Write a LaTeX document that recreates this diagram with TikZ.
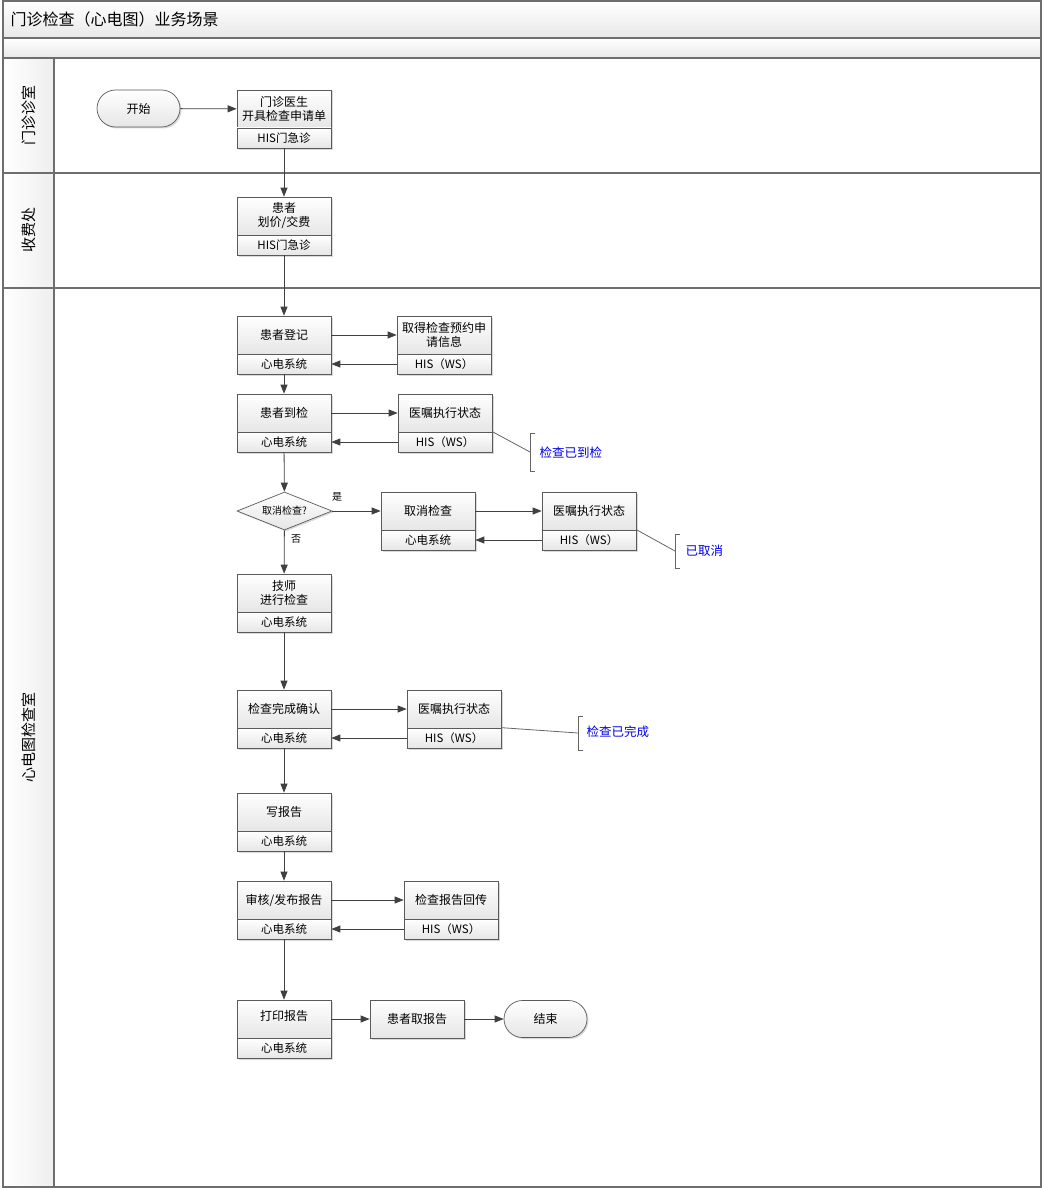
\documentclass[tikz,border=0pt]{standalone}
\usepackage{fontspec}
\setmainfont{Noto Sans CJK SC}
\usetikzlibrary{arrows.meta,shapes.geometric,shapes.misc,shadows}

\definecolor{edgecol}{HTML}{404040}
\definecolor{boxline}{HTML}{5A5A5A}
\definecolor{boxbot}{HTML}{E6E6E6}
\definecolor{lanecol}{HTML}{6E6E6E}
\definecolor{bandbot}{HTML}{E8E8E8}
\definecolor{colbot}{HTML}{EEEEEE}
\definecolor{notecol}{HTML}{0000E6}
\definecolor{notegray}{HTML}{666666}

\tikzset{
  shade box/.style={draw=boxline, line width=0.7pt, top color=white, bottom color=boxbot,
    drop shadow={shadow xshift=1.5pt, shadow yshift=-1.5pt, opacity=0.3}},
  taskbox/.style={shade box, align=center, inner sep=1pt, minimum width=94pt,
    font=\fontsize{12}{14}\selectfont},
  upper/.style={taskbox, minimum height=38pt},
  lower/.style={taskbox, minimum height=20pt, font=\fontsize{11.5}{13}\selectfont},
  terminal/.style={shade box, rounded rectangle, minimum width=85pt, minimum height=37pt,
    inner sep=1pt, font=\fontsize{12}{14}\selectfont},
  decision/.style={shade box, diamond, aspect=2.5, minimum width=95pt, minimum height=38pt,
    inner sep=0pt, font=\fontsize{10}{12}\selectfont},
  flowarr/.style={draw=edgecol, line width=0.8pt, -{Triangle[length=9pt,width=7pt]}},
  noteline/.style={draw=notegray, line width=0.8pt},
  notetext/.style={anchor=west, text=notecol, font=\fontsize{12.5}{14}\selectfont},
  smalllabel/.style={font=\fontsize{10}{12}\selectfont},
  lanelabel/.style={rotate=90, font=\fontsize{15}{17}\selectfont},
  laneframe/.style={draw=lanecol, line width=1.2pt}
}

\begin{document}
\begin{tikzpicture}[x=1pt,y=-1pt]
\useasboundingbox (0,0) rectangle (1042,1188);

% ---------- pool frame, title bands and lanes ----------
\shade[top color=white, bottom color=bandbot] (3,1) rectangle (1041,38);
\shade[top color=white, bottom color=bandbot] (3,38) rectangle (1041,58);
\shade[left color=white, right color=colbot] (3,58) rectangle (54,1187);
\draw[laneframe] (3,1) rectangle (1041,1187);
\draw[laneframe] (3,38) -- (1041,38);
\draw[laneframe] (3,58) -- (1041,58);
\draw[laneframe] (3,173) -- (1041,173);
\draw[laneframe] (3,288) -- (1041,288);
\draw[laneframe] (54,58) -- (54,1187);

\node[anchor=west, font=\fontsize{16}{18}\selectfont] (title) at (7,19) {门诊检查（心电图）业务场景};
\node[lanelabel] (lane1) at (29,116) {门诊诊室};
\node[lanelabel] (lane2) at (29,230) {收费处};
\node[lanelabel] (lane3) at (29,737) {心电图检查室};

% ---------- lane 1 ----------
\node[terminal] (start) at (138.5,108.5) {开始};
\node[upper] (doc) at (284,109) {门诊医生\\开具检查申请单};
\node[lower] (doc-s) at (284,138) {HIS门急诊};

% ---------- lane 2 ----------
\node[upper] (pay) at (284,216) {患者\\划价/交费};
\node[lower] (pay-s) at (284,245) {HIS门急诊};

% ---------- lane 3 ----------
\node[upper] (reg) at (284,335) {患者登记};
\node[lower] (reg-s) at (284,364) {心电系统};
\node[upper] (appt) at (444,335) {取得检查预约申\\请信息};
\node[lower] (appt-s) at (444,364) {HIS（WS）};

\node[upper] (arrive) at (284,413) {患者到检};
\node[lower] (arrive-s) at (284,442) {心电系统};
\node[upper] (st1) at (445,413) {医嘱执行状态};
\node[lower] (st1-s) at (445,442) {HIS（WS）};

\node[decision] (cancelq) at (284.5,511) {取消检查?};
\node[upper] (cancel) at (428,511) {取消检查};
\node[lower] (cancel-s) at (428,540) {心电系统};
\node[upper] (st2) at (589,511) {医嘱执行状态};
\node[lower] (st2-s) at (589,540) {HIS（WS）};
\node[smalllabel] (yes) at (337,497) {是};
\node[smalllabel] (no) at (296,539) {否};

\node[upper] (exam) at (284,593) {技师\\进行检查};
\node[lower] (exam-s) at (284,622) {心电系统};

\node[upper] (done) at (284,709) {检查完成确认};
\node[lower] (done-s) at (284,738) {心电系统};
\node[upper] (st3) at (454,709) {医嘱执行状态};
\node[lower] (st3-s) at (454,738) {HIS（WS）};

\node[upper] (write) at (284,812) {写报告};
\node[lower] (write-s) at (284,841) {心电系统};

\node[upper] (audit) at (284,900) {审核/发布报告};
\node[lower] (audit-s) at (284,929) {心电系统};
\node[upper] (back) at (451,900) {检查报告回传};
\node[lower] (back-s) at (451,929) {HIS（WS）};

\node[upper] (print) at (284,1019) {\raisebox{7pt}{打印报告}};
\node[lower] (print-s) at (284,1048) {心电系统};
\node[upper] (take) at (417,1019) {患者取报告};
\node[terminal] (end) at (545.5,1019) {结束};

% ---------- flow ----------
\draw[flowarr] (start) -- (doc);
\draw[flowarr] (doc-s) -- (pay);
\draw[flowarr] (pay-s) -- (reg);
\draw[flowarr] (reg) -- (appt);
\draw[flowarr] (appt-s) -- (reg-s);
\draw[flowarr] (reg-s) -- (arrive);
\draw[flowarr] (arrive) -- (st1);
\draw[flowarr] (st1-s) -- (arrive-s);
\draw[flowarr] (arrive-s) -- (cancelq);
\draw[flowarr] (cancelq) -- (cancel);
\draw[flowarr] (cancel) -- (st2);
\draw[flowarr] (st2-s) -- (cancel-s);
\draw[flowarr] (cancelq) -- (exam);
\draw[flowarr] (exam-s) -- (done);
\draw[flowarr] (done) -- (st3);
\draw[flowarr] (st3-s) -- (done-s);
\draw[flowarr] (done-s) -- (write);
\draw[flowarr] (write-s) -- (audit);
\draw[flowarr] (audit) -- (back);
\draw[flowarr] (back-s) -- (audit-s);
\draw[flowarr] (audit-s) -- (print);
\draw[flowarr] (print) -- (take);
\draw[flowarr] (take) -- (end);

% ---------- annotations ----------
\coordinate (n1) at (530,452);
\coordinate (n2) at (675,551);
\coordinate (n3) at (578,733);
\draw[noteline] (st1-s.north east) -- (n1);
\draw[noteline] (st2-s.north east) -- (n2);
\draw[noteline] (st3-s.north east) -- (n3);
\draw[noteline] (n1) ++(5,-19) -- ++(-5,0) -- ++(0,38) -- ++(5,0);
\draw[noteline] (n2) ++(5,-17) -- ++(-5,0) -- ++(0,34) -- ++(5,0);
\draw[noteline] (n3) ++(5,-17) -- ++(-5,0) -- ++(0,34) -- ++(5,0);
\node[notetext] (n1t) at (536,453) {检查已到检};
\node[notetext] (n2t) at (682,551) {已取消};
\node[notetext] (n3t) at (583,732) {检查已完成};
\end{tikzpicture}
\end{document}
